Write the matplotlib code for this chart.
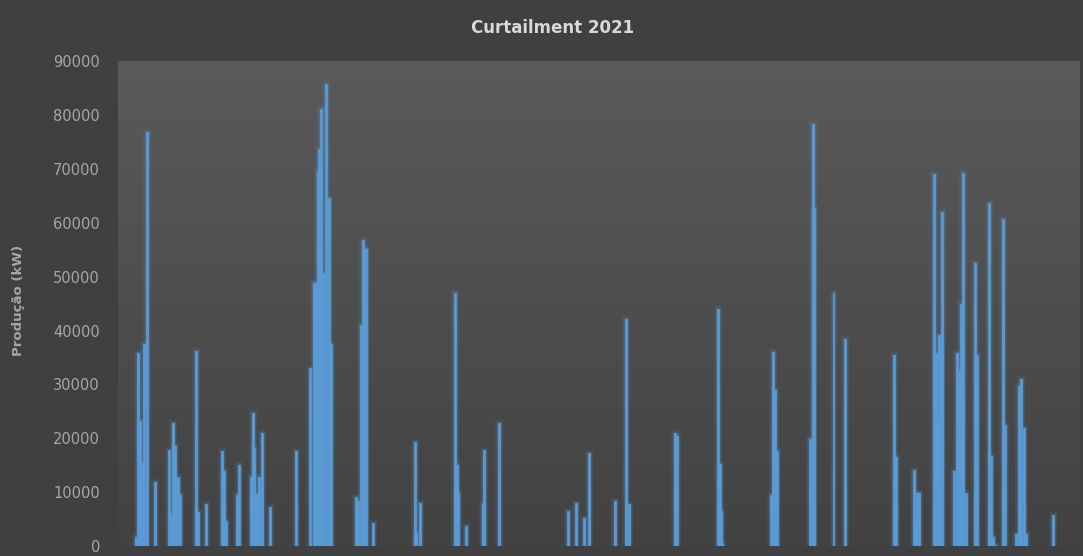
import numpy as np
import matplotlib
matplotlib.use("Agg")
from matplotlib import pyplot as plt

# hora do ano (0-8760) e produção cortada (kW)
hora = [164, 178, 200, 219, 237, 264, 341,
        464, 483, 501, 519, 533, 546, 560,
        710, 728, 801, 947, 965, 979, 1084, 1102,
        1211, 1225, 1238, 1257, 1270, 1284, 1311, 1384,
        1621, 1748, 1785, 1800, 1818, 1833, 1849, 1869, 1896, 1921, 1942,
        2164, 2182, 2216, 2231, 2246, 2261, 2325,
        2704, 2716, 2752, 3067, 3084, 3096, 3167, 3322, 3337, 3474,
        4099, 4169, 4245, 4293, 4529, 4630, 4651,
        5077, 5095, 5461, 5480, 5494, 5504,
        5945, 5966, 5984, 6003,
        6306, 6326, 6342, 6517, 6620,
        7069, 7087, 7248, 7266, 7280, 7297,
        7431, 7451, 7464, 7476, 7492, 7509,
        7619, 7643, 7660, 7676, 7697, 7720, 7808, 7828,
        7936, 7954, 7969, 7984, 8059, 8082,
        8183, 8205, 8226, 8250, 8274, 8517]
producao = [1600, 35760, 23260, 15470, 37490, 76780, 11900,
            17820, 5750, 22770, 18620, 11630, 12870, 9470,
            36250, 6370, 7800, 17630, 13920, 4700, 9470, 15030,
            12870, 24630, 18250, 9470, 9600, 12870, 20920, 7300,
            17690, 32980, 48760, 48760, 69660, 73620, 81050, 50610, 85750, 64530, 37490,
            9030, 8410, 41020, 56790, 55070, 55070, 4330,
            19360, 2470, 7920, 46900, 15030, 9780, 3770, 7800, 17820, 22890,
            6500, 7920, 5140, 17200, 8410, 42070, 7740,
            20910, 20470, 43930, 15160, 6500, 300,
            9470, 35950, 28950, 17630,
            19800, 78270, 62680, 46900, 38420,
            35450, 16460, 14110, 4510, 9890, 9890,
            68990, 35760, 24000, 39160, 37740, 62050,
            13980, 35760, 32540, 44920, 69170, 9890, 52580, 35450,
            63720, 16700, 1610, 190, 60690, 22460,
            2230, 29700, 30940, 21840, 2230, 5750]

yticks = list(range(0, 90001, 10000))

bar_color = "#5b9bd5"
text_color = "#a6a6a6"

fig = plt.figure(figsize=(10.83, 5.56), dpi=100)
fig.patch.set_facecolor("#404040")
ax = fig.add_axes([0.109, 0.018, 0.888, 0.872])

# fundo em degradê da área de plotagem
grad = np.linspace(0, 1, 256).reshape(-1, 1)
cmap = matplotlib.colors.LinearSegmentedColormap.from_list("bg", ["#424242", "#5a5a5a"])
ax.imshow(grad, cmap=cmap, aspect="auto", origin="lower",
          extent=[0, 8760, 0, 90000], zorder=0)

# brilho suave em volta das barras
for lw, a in [(4.0, 0.12), (2.5, 0.20)]:
    ax.bar(hora, producao, width=18, align="center", color=bar_color,
           edgecolor=bar_color, linewidth=lw, alpha=a, zorder=1)
ax.bar(hora, producao, width=18, align="center", color=bar_color,
       edgecolor=bar_color, linewidth=0.5, zorder=2)

ax.set_xlim(0, 8760)
ax.set_ylim(0, 90000)
ax.set_yticks(yticks)
ax.set_yticklabels([str(v) for v in yticks])
ax.set_xticks([])
ax.tick_params(axis="y", length=0, pad=13, labelsize=10.5, labelcolor=text_color)
for s in ax.spines.values():
    s.set_visible(False)

fig.text(0.51, 0.95, "Curtailment 2021", ha="center", va="center",
         color="#d9d9d9", fontsize=12, fontweight="bold")
fig.text(0.017, 0.46, "Produção (kW)", rotation=90, ha="center", va="center",
         color=text_color, fontsize=9.5, fontweight="bold")

fig.savefig("out.png", dpi=100, facecolor=fig.get_facecolor())
